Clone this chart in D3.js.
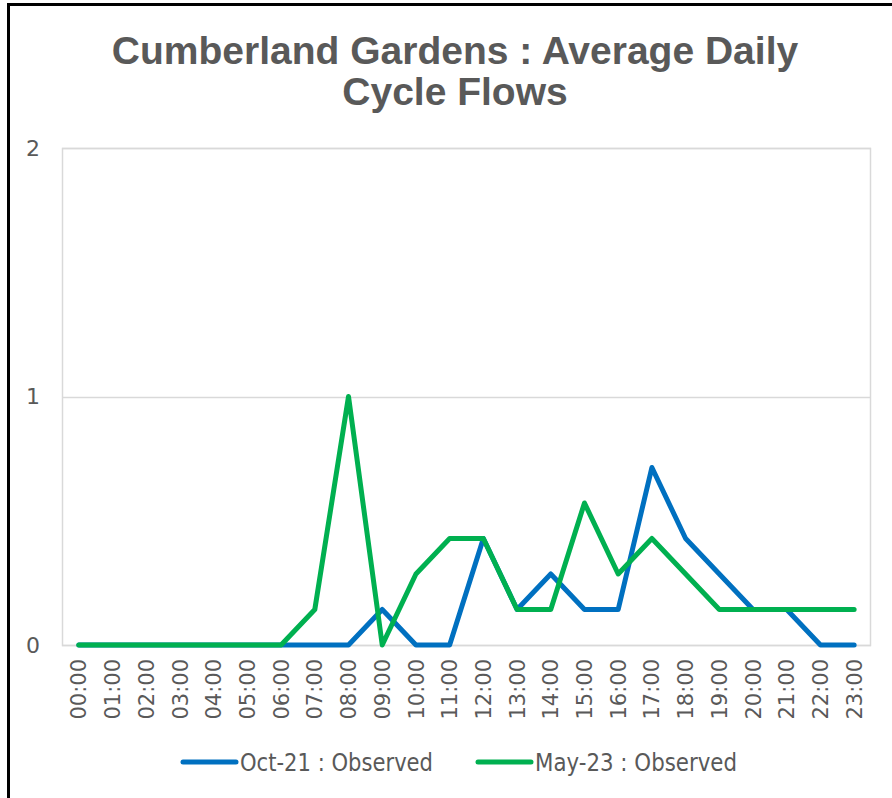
<!DOCTYPE html>
<html>
<head>
<meta charset="utf-8">
<script src="https://cdn.jsdelivr.net/npm/d3@7"></script>
<style>
  body { margin: 0; background: #fff; }
  svg { display: block; }
</style>
</head>
<body>
<div id="chart"></div>
<script>
// hourly categories
const hours = ["00:00","01:00","02:00","03:00","04:00","05:00","06:00","07:00","08:00","09:00","10:00","11:00",
               "12:00","13:00","14:00","15:00","16:00","17:00","18:00","19:00","20:00","21:00","22:00","23:00"];

// average daily cycle flows (weekly averages, so sevenths)
const oct21 = [0,0,0,0,0,0,0,0,0,1/7,0,0,3/7,1/7,2/7,1/7,1/7,5/7,3/7,2/7,1/7,1/7,0,0];
const may23 = [0,0,0,0,0,0,0,1/7,1,0,2/7,3/7,3/7,1/7,1/7,4/7,2/7,3/7,2/7,1/7,1/7,1/7,1/7,1/7];

const seriesNames = ["Oct-21 : Observed", "May-23 : Observed"];
const seriesColors = ["#0070C0", "#00B050"];
const yTicks = [0, 1, 2];

const W = 892, H = 798;
const margin = {top: 148, right: 21, bottom: 153, left: 62};
const textColor = "#595959";
const font = "DejaVu Sans, Verdana, sans-serif";

const svg = d3.select("#chart").append("svg")
    .attr("width", W).attr("height", H);

// chart frame
svg.append("rect")
    .attr("x", 8.5).attr("y", 4.5)
    .attr("width", W + 20).attr("height", H + 20)
    .attr("fill", "none").attr("stroke", "#000").attr("stroke-width", 3);

// title
const title = svg.append("text")
    .attr("text-anchor", "middle")
    .attr("fill", textColor)
    .style("font-family", "Liberation Sans, Arial, sans-serif")
    .style("font-weight", "bold")
    .style("font-size", "39px");
title.append("tspan").attr("x", 455).attr("y", 64).text("Cumberland Gardens : Average Daily");
title.append("tspan").attr("x", 455).attr("y", 105).text("Cycle Flows");

const x = d3.scaleBand().domain(hours)
    .range([margin.left, W - margin.right]);
const y = d3.scaleLinear().domain([0, 2])
    .range([H - margin.bottom, margin.top]);

// gridlines
svg.append("g")
    .selectAll("line").data(yTicks).join("line")
    .attr("x1", margin.left).attr("x2", W - margin.right)
    .attr("y1", d => Math.round(y(d)) + 0.5).attr("y2", d => Math.round(y(d)) + 0.5)
    .attr("stroke", "#d9d9d9").attr("stroke-width", 1.5);

// plot area border
svg.append("rect")
    .attr("x", margin.left + 0.5).attr("y", margin.top + 0.5)
    .attr("width", W - margin.left - margin.right - 1)
    .attr("height", H - margin.top - margin.bottom)
    .attr("fill", "none").attr("stroke", "#d9d9d9").attr("stroke-width", 1.5);

// y axis labels
const yAxis = svg.append("g")
    .attr("transform", `translate(${margin.left},0)`)
    .call(d3.axisLeft(y).tickValues(yTicks).tickFormat(d3.format("d")).tickSize(0).tickPadding(22));
yAxis.select(".domain").remove();
yAxis.selectAll("text")
    .attr("fill", textColor)
    .style("font-family", font)
    .style("font-size", "22px");

// x axis labels (rotated)
const xAxis = svg.append("g")
    .attr("transform", `translate(0,${H - margin.bottom})`)
    .call(d3.axisBottom(x).tickSize(0));
xAxis.select(".domain").remove();
xAxis.selectAll("text")
    .attr("fill", textColor)
    .style("font-family", font)
    .style("font-size", "21px")
    .attr("text-anchor", "end")
    .attr("dy", "0.36em")
    .attr("x", -14)
    .attr("y", 0)
    .attr("transform", "rotate(-90)");

// lines
const line = d3.line()
    .x((d, i) => x(hours[i]) + x.bandwidth() / 2)
    .y(d => y(d));

[oct21, may23].forEach((vals, k) => {
  svg.append("path")
      .datum(vals)
      .attr("d", line)
      .attr("fill", "none")
      .attr("stroke", seriesColors[k])
      .attr("stroke-width", 5)
      .attr("stroke-linejoin", "round")
      .attr("stroke-linecap", "round");
});

// legend
const legendX = [183, 478];
const legend = svg.append("g");
seriesNames.forEach((name, k) => {
  const g = legend.append("g").attr("transform", `translate(${legendX[k]},762)`);
  g.append("line")
      .attr("x1", 0).attr("x2", 53)
      .attr("stroke", seriesColors[k]).attr("stroke-width", 5)
      .attr("stroke-linecap", "round");
  g.append("text")
      .attr("x", 57).attr("dy", "0.36em")
      .attr("fill", textColor)
      .style("font-family", font)
      .style("font-size", "25px")
      .attr("textLength", k === 0 ? 193 : 202)
      .attr("lengthAdjust", "spacingAndGlyphs")
      .text(name);
});
</script>
</body>
</html>
